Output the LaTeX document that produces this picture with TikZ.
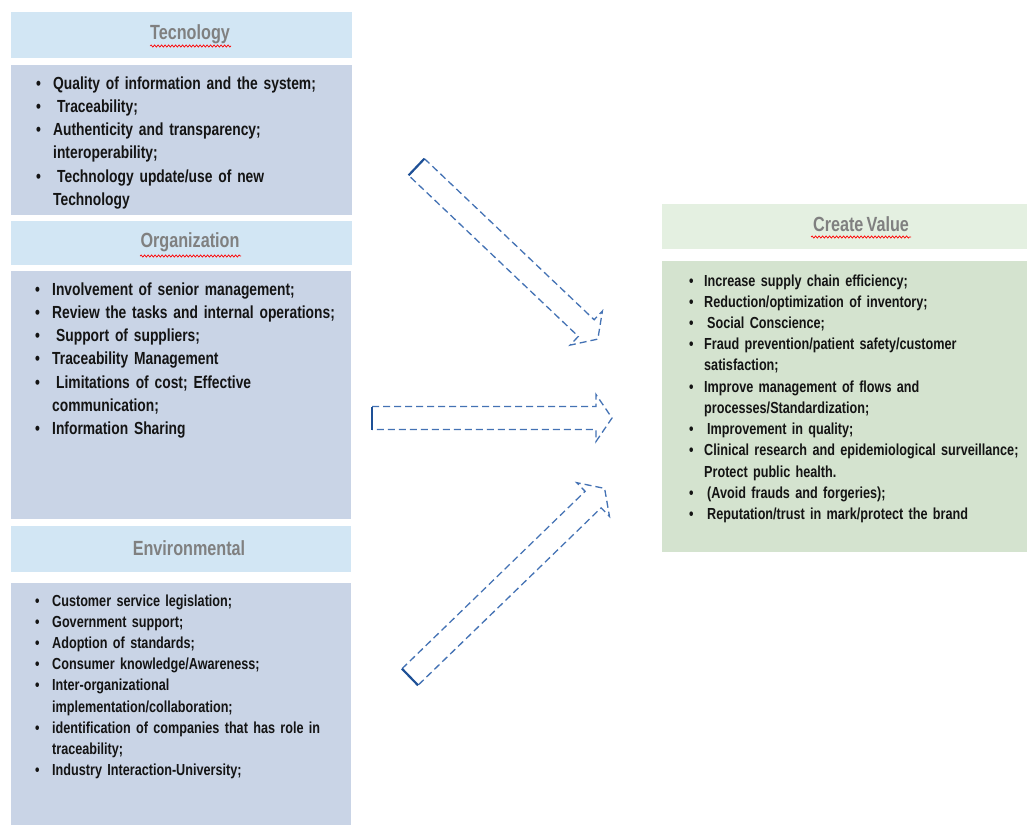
\documentclass[tikz,border=0pt]{standalone}
\usepackage{fontspec}
\setmainfont{Liberation Sans}[FakeStretch=0.79, WordSpace=0.7]
\usetikzlibrary{decorations.pathmorphing}
\definecolor{hdrblue}{RGB}{210,230,244}
\definecolor{bodyblue}{RGB}{201,212,230}
\definecolor{hdrgreen}{RGB}{228,240,225}
\definecolor{bodygreen}{RGB}{212,227,207}
\definecolor{titlegray}{RGB}{128,128,128}
\definecolor{arrowblue}{RGB}{68,114,180}
\definecolor{tailblue}{RGB}{30,80,150}
\definecolor{txt}{RGB}{20,20,20}
\hyphenpenalty=10000
\newlength{\bulw}
\setlength{\bulw}{19pt}
\newcommand{\bul}{\makebox[\bulw][l]{\hspace{2pt}•}}
\newcommand{\cnt}{\hspace*{\bulw}}
\newcommand{\blockarr}[4]{%
  \begin{scope}[shift={(#1,#2)}, rotate=#3]
    \draw[arrowline] (0,-11.5) -- (#4-16,-11.5) -- (#4-16,-23.5) -- (#4,0)
      -- (#4-16,23.5) -- (#4-16,11.5) -- (0,11.5);
    \draw[tailline] (0,-11.5) -- (0,11.5);
  \end{scope}}
\begin{document}
\begin{tikzpicture}[x=1pt,y=-1pt,
  box/.style={draw=none, inner sep=0pt, anchor=north west},
  hdrb/.style={box, fill=hdrblue},
  bodyb/.style={box, fill=bodyblue},
  hdrg/.style={box, fill=hdrgreen},
  bodyg/.style={box, fill=bodygreen},
  title/.style={text=titlegray, inner sep=0pt, font=\fontsize{20.5}{24}\selectfont\bfseries},
  listbig/.style={anchor=base west, inner sep=0pt, text=txt, text width=330pt, align=left,
     font=\fontsize{17.5}{23.25}\selectfont\bfseries},
  listsmall/.style={anchor=base west, inner sep=0pt, text=txt, text width=345pt, align=left,
     font=\fontsize{16}{21.23}\selectfont\bfseries},
  arrowline/.style={draw=arrowblue, line width=1.3pt, dash pattern=on 7pt off 4pt},
  tailline/.style={draw=tailblue, line width=2.2pt},
  spell/.style={draw=red, line width=0.7pt, decorate, decoration={snake, amplitude=1.1pt, segment length=3.5pt}}
]
\useasboundingbox[fill=white] (0,0) rectangle (1027,825);

% left column boxes
\node[hdrb, minimum width=341pt, minimum height=46pt] (techhdr) at (11,12) {};
\node[bodyb, minimum width=341pt, minimum height=150pt] (techbody) at (11,65) {};
\node[hdrb, minimum width=341pt, minimum height=44pt] (orghdr) at (11,221) {};
\node[bodyb, minimum width=340pt, minimum height=248pt] (orgbody) at (11,271) {};
\node[hdrb, minimum width=340pt, minimum height=46pt] (envhdr) at (11,526) {};
\node[bodyb, minimum width=340pt, minimum height=242pt] (envbody) at (11,583) {};
% right column boxes
\node[hdrg, minimum width=365pt, minimum height=45pt] (cvhdr) at (662,204) {};
\node[bodyg, minimum width=365pt, minimum height=291pt] (cvbody) at (662,261) {};

% titles
\node[title] (techtitle) at (190,34) {Tecnology};
\node[title] (orgtitle) at (190,242) {Organization};
\node[title] (envtitle) at (189,548) {Environmental};
\node[title] (cvtitle) at (861,224) {Create Value};
\draw[spell] (150,46) -- (231,46);
\draw[spell] (140,256) -- (241,256);
\draw[spell] (811,237) -- (911,237);

% lists
\node[listbig] (techlist) at (34,89) {%
\bul Quality of information and the system;\\
\bul\hspace{4pt}Traceability;\\
\bul Authenticity and transparency;\\
\cnt interoperability;\\
\bul\hspace{4pt}Technology update/use of new\\
\cnt Technology};

\node[listbig] (orglist) at (33,295) {%
\bul Involvement of senior management;\\
\bul Review the tasks and internal operations;\\
\bul\hspace{4pt}Support of suppliers;\\
\bul Traceability Management\\
\bul\hspace{4pt}Limitations of cost; Effective\\
\cnt communication;\\
\bul Information Sharing};

\node[listsmall] (envlist) at (33,606) {%
\bul Customer service legislation;\\
\bul Government support;\\
\bul Adoption of standards;\\
\bul Consumer knowledge/Awareness;\\
\bul Inter-organizational\\
\cnt implementation/collaboration;\\
\bul identification of companies that has role in\\
\cnt traceability;\\
\bul Industry Interaction-University;};

\setlength{\bulw}{17pt}
\node[listsmall] (cvlist) at (687,286) {%
\bul Increase supply chain efficiency;\\
\bul Reduction/optimization of inventory;\\
\bul\hspace{3pt}Social Conscience;\\
\bul Fraud prevention/patient safety/customer\\
\cnt satisfaction;\\
\bul Improve management of flows and\\
\cnt processes/Standardization;\\
\bul\hspace{3pt}Improvement in quality;\\
\bul Clinical research and epidemiological surveillance;\\
\cnt Protect public health.\\
\bul\hspace{3pt}(Avoid frauds and forgeries);\\
\bul\hspace{3pt}Reputation/trust in mark/protect the brand};

% block arrows
\blockarr{416.5}{167}{-43.5}{250}
\blockarr{372}{418}{0}{240}
\blockarr{410}{677}{44.1}{271}
\end{tikzpicture}
\end{document}
